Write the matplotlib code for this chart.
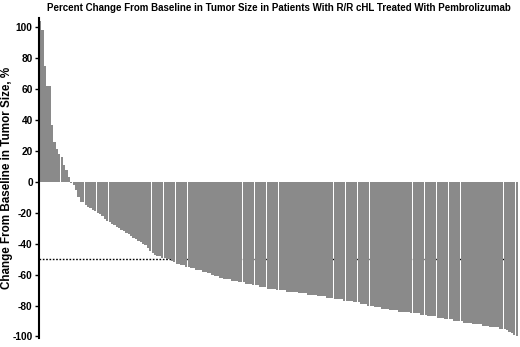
import matplotlib
matplotlib.use("Agg")
import matplotlib.pyplot as plt
import numpy as np

plt.rcParams['font.family'] = ['Liberation Sans', 'DejaVu Sans']

title = "Percent Change From Baseline in Tumor Size in Patients With R/R cHL Treated With Pembrolizumab"
ylabel = "Change From Baseline in Tumor Size, %"
yticks = [100, 80, 60, 40, 20, 0, -20, -40, -60, -80, -100]
threshold = -50

# Percent change per patient (sorted, waterfall)
changes = [
    104, 98, 75, 62, 62, 37, 26, 21, 18, 16, 11, 8, 3,
    -1, -2, -5, -10, -13, -13, -15,
    -16, -17, -18, -19, -20,
    -21, -22, -24, -25, -26,
    -27, -28, -29, -30, -31,
    -32, -33, -34, -35, -36,
    -37, -38, -39, -40, -41,
    -43, -45, -46, -47, -48,
    -48, -49, -49, -50, -50,
    -51, -52, -53, -53, -54,
    -54, -55, -55, -56, -56,
    -57, -57, -57, -58, -58,
    -59, -59, -60, -61, -61,
    -62, -62, -63, -63, -63,
    -64, -64, -64, -65, -65,
    -65, -66, -66, -66, -67,
    -67, -67, -68, -68, -68,
    -69, -69, -69, -69, -70,
    -70, -70, -70, -71, -71,
    -71, -71, -71, -72, -72,
    -72, -72, -73, -73, -73,
    -73, -74, -74, -74, -74,
    -75, -75, -75, -76, -76,
    -76, -76, -77, -77, -77,
    -77, -78, -78, -78, -79,
    -79, -79, -80, -80, -80,
    -81, -81, -81, -82, -82,
    -82, -83, -83, -83, -83,
    -84, -84, -84, -84, -84,
    -85, -85, -85, -85, -86,
    -86, -86, -87, -87, -87,
    -87, -88, -88, -88, -89,
    -89, -89, -89, -90, -90,
    -90, -90, -91, -91, -91,
    -91, -92, -92, -92, -92,
    -93, -93, -93, -94, -94,
    -94, -94, -95, -95, -95,
    -96, -97, -98, -99, -100,
]

fig = plt.figure(figsize=(5.2, 3.47), dpi=100)
ax = fig.add_axes([0.075, 0.026, 0.921, 0.922])

x = np.arange(len(changes))
ax.axhline(threshold, color='black', linestyle=(0, (1.2, 1.2)), linewidth=1.0, zorder=0)
ax.bar(x, changes, width=0.95, color='#8a8a8a', edgecolor='none', zorder=2)

ax.set_xlim(-0.5, len(changes) - 0.5)
ax.set_ylim(-101, 106)
ax.set_yticks(yticks)
ax.set_yticklabels([str(v) for v in yticks])
ax.tick_params(axis='y', length=3, width=1, pad=1.5, labelsize=7.3)
for lab in ax.get_yticklabels():
    lab.set_fontweight('bold')
    lab.set_fontsize(7.3)
ax.tick_params(axis='x', bottom=False, labelbottom=False)
for s in ['top', 'right', 'bottom']:
    ax.spines[s].set_visible(False)
ax.spines['left'].set_linewidth(1.5)

ax.set_ylabel(ylabel, fontsize=8.4, fontweight='bold')
ax.yaxis.set_label_coords(-0.054, 0.5)
ax.set_title(title, fontsize=7.05, fontweight='bold', pad=5)

fig.savefig('out.png', dpi=100)
